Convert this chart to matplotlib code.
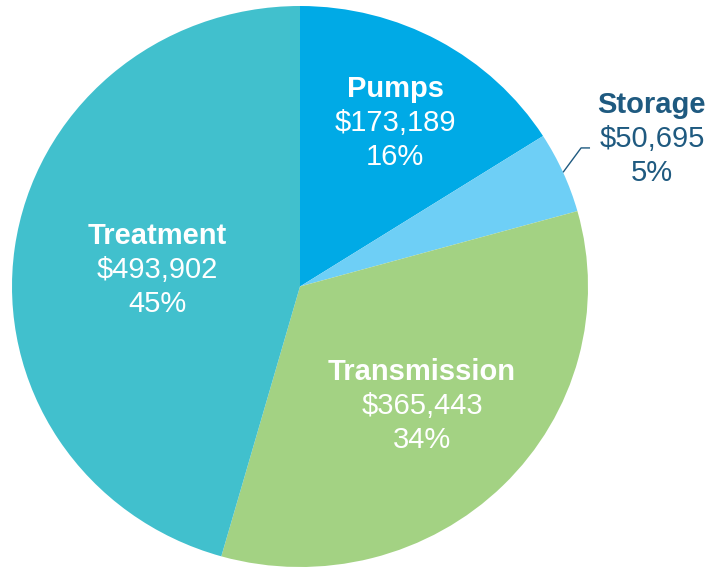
import matplotlib
matplotlib.use("Agg")
import matplotlib.pyplot as plt
import matplotlib.transforms as mtransforms
import numpy as np

categories = ["Pumps", "Storage", "Transmission", "Treatment"]
values = [173189, 50695, 365443, 493902]
percent_labels = ["16%", "5%", "34%", "45%"]
colors = ["#00AAE6", "#6ECFF6", "#A3D283", "#41C0CD"]

plt.rcParams['font.family'] = ['Liberation Sans', 'DejaVu Sans']

W, H = 715, 568
fig = plt.figure(figsize=(W / 100, H / 100), dpi=100)
# pie occupies x 12..588, y 6..567 (pixels from top)
ax = fig.add_axes([12 / W, 1 / H, 576 / W, 561 / H])
wedges, _ = ax.pie(values, colors=colors, startangle=90, counterclock=False,
                   wedgeprops=dict(linewidth=0))
ax.set_aspect('auto')
ax.set_xlim(-1, 1)
ax.set_ylim(-1, 1)
ax.axis('off')

# label anchor (center x, baseline of middle line) in data coords
label_pos = {
    "Pumps": (0.330, 0.553),
    "Storage": (1.222, 0.497),
    "Transmission": (0.424, -0.453),
    "Treatment": (-0.4965, 0.030),
}
label_color = {
    "Pumps": "white",
    "Storage": "#1F5A80",
    "Transmission": "white",
    "Treatment": "white",
}
fs = 21
step = 34  # pixels between baselines
for cat, val, pct in zip(categories, values, percent_labels):
    x, y = label_pos[cat]
    c = label_color[cat]
    lines = [(cat, 'bold', -step), (f"${val:,}", 'normal', 0), (pct, 'normal', step)]
    for txt, wt, off in lines:
        tr = ax.transData + mtransforms.ScaledTranslation(0, -off / 100, fig.dpi_scale_trans)
        ax.text(x, y, txt, transform=tr, ha='center', va='baseline',
                fontsize=fs, fontweight=wt, color=c, clip_on=False)

# leader line for Storage
idx = categories.index("Storage")
w = wedges[idx]
mid = np.deg2rad((w.theta1 + w.theta2) / 2)
x0, y0 = np.cos(mid), np.sin(mid)
ax.plot([x0, 0.976, 1.007], [y0, 0.494, 0.494], color="#1F5A80", lw=1.0,
        clip_on=False, solid_capstyle='butt')

fig.savefig("out.png", dpi=100)
